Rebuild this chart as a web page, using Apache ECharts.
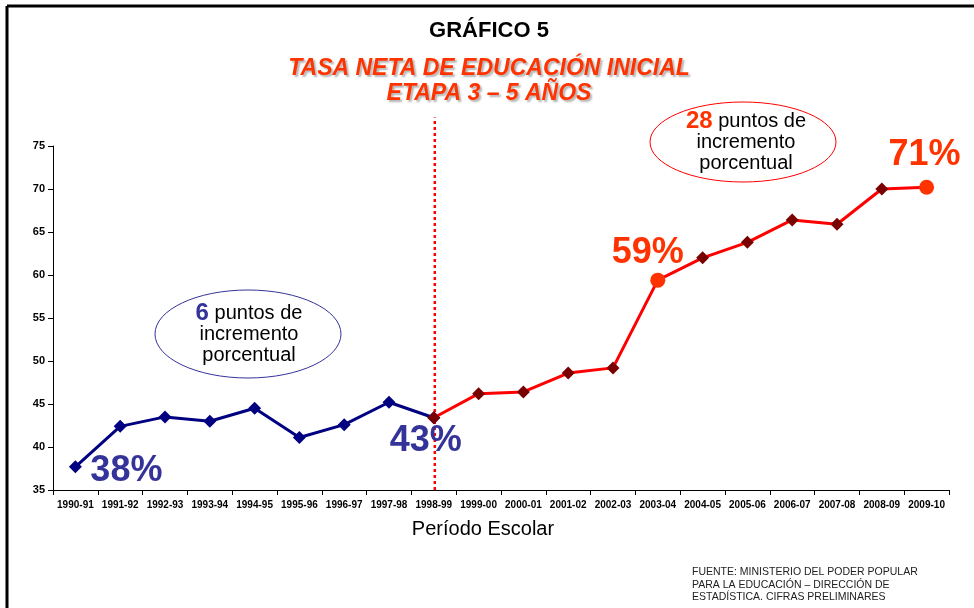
<!DOCTYPE html>
<html>
<head>
<meta charset="utf-8">
<script src="https://cdn.jsdelivr.net/npm/echarts@6/dist/echarts.min.js"></script>
<style>
    html, body { margin: 0; padding: 0; background: #fff; }
    #chart { width: 974px; height: 608px; }
</style>
</head>
<body>
<div id="chart"></div>
<script>
// periodos escolares
const periodos = ['1990-91', '1991-92', '1992-93', '1993-94', '1994-95', '1995-96', '1996-97',
    '1997-98', '1998-99', '1999-00', '2000-01', '2001-02', '2002-03', '2003-04', '2004-05',
    '2005-06', '2006-07', '2007-08', '2008-09', '2009-10'];

// tasa neta, primer tramo (1990-91 .. 1998-99)
const tramo1 = [37.7, 42.4, 43.5, 43.0, 44.5, 41.1, 42.6, 45.2, 43.4,
    null, null, null, null, null, null, null, null, null, null, null];

// tasa neta, segundo tramo (1998-99 .. 2009-10)
const tramo2 = [null, null, null, null, null, null, null, null, 43.4,
    46.2, 46.4, 48.6, 49.2, 59.4, 62.0, 63.8, 66.4, 65.9, 70.0, 70.2];

// rotulos destacados (indice -> texto)
const rotulos = { 0: '38%', 8: '43%', 13: '59%', 19: '71%' };

const yTicks = [35, 40, 45, 50, 55, 60, 65, 70, 75];

const fuente = ['FUENTE: MINISTERIO DEL PODER POPULAR',
    'PARA LA EDUCACIÓN – DIRECCIÓN DE',
    'ESTADÍSTICA. CIFRAS PRELIMINARES'];

const azul = '#000080';
const azulTxt = '#333399';
const rojo = '#ff0000';
const naranja = '#ff3300';
const granate = '#7a0000';

function pctLabel(txt, color, offset) {
    return {
        show: true,
        position: 'inside',
        offset: offset,
        formatter: txt,
        color: color,
        fontSize: 36,
        fontWeight: 'bold',
        fontFamily: 'Liberation Sans'
    };
}

const serie1 = tramo1.map((v, i) => {
    if (i === 0) return { value: v, label: pctLabel(rotulos[0], azulTxt, [51, 4]) };
    return v;
});

const serie2 = tramo2.map((v, i) => {
    if (i === 8) return { value: v, label: pctLabel(rotulos[8], azulTxt, [-8, 23]) };
    if (i === 13) return {
        value: v, symbol: 'circle', symbolSize: 15,
        itemStyle: { color: naranja }, label: pctLabel(rotulos[13], naranja, [-10, -27])
    };
    if (i === 19) return {
        value: v, symbol: 'circle', symbolSize: 15,
        itemStyle: { color: naranja }, label: pctLabel(rotulos[19], naranja, [-2, -32])
    };
    return v;
});

const chart = echarts.init(document.getElementById('chart'), null, { renderer: 'canvas' });

const option = {
    animation: false,
    backgroundColor: '#fff',
    textStyle: { fontFamily: 'Liberation Sans' },
    grid: { left: 53, right: 25, top: 146, bottom: 118 },
    xAxis: {
        type: 'category',
        data: periodos,
        boundaryGap: true,
        name: 'Período Escolar',
        nameLocation: 'middle',
        nameGap: 29,
        nameTextStyle: { fontSize: 20, color: '#000', fontFamily: 'Liberation Sans', padding: [0, 36, 0, 0] },
        axisLine: { lineStyle: { color: '#000', width: 1 } },
        axisTick: { show: true, length: 5, lineStyle: { color: '#000' } },
        axisLabel: {
            color: '#000', fontSize: 10, fontWeight: 'bold', margin: 10,
            interval: 0, fontFamily: 'Liberation Sans'
        },
        splitLine: { show: false }
    },
    yAxis: {
        type: 'value',
        min: yTicks[0],
        max: yTicks[yTicks.length - 1],
        interval: 5,
        axisLine: { show: true, lineStyle: { color: '#000', width: 1 } },
        axisTick: { show: true, length: 5, inside: false, lineStyle: { color: '#000' } },
        axisLabel: { color: '#000', fontSize: 11, fontWeight: 'bold', margin: 8 },
        splitLine: { show: false }
    },
    series: [
        {
            name: 'tramo1',
            type: 'line',
            data: serie1,
            symbol: 'diamond',
            symbolSize: 13,
            lineStyle: { color: azul, width: 3 },
            itemStyle: { color: azul },
            z: 3
        },
        {
            name: 'tramo2',
            type: 'line',
            data: serie2,
            symbol: 'diamond',
            symbolSize: 13,
            lineStyle: { color: rojo, width: 3 },
            itemStyle: { color: granate },
            z: 4
        }
    ],
    graphic: [
        // marco
        { type: 'line', shape: { x1: 7, y1: 6, x2: 974, y2: 6 }, style: { stroke: '#000', lineWidth: 3 } },
        { type: 'line', shape: { x1: 7, y1: 6, x2: 7, y2: 608 }, style: { stroke: '#000', lineWidth: 3 } },
        // titulos
        {
            type: 'text', x: 489, y: 31, z: 11,
            style: {
                text: 'GRÁFICO 5', align: 'center', verticalAlign: 'middle',
                fontSize: 22, fontWeight: 'bold', fill: '#000', fontFamily: 'Liberation Sans'
            }
        },
        {
            type: 'text', x: 489, y: 81, z: 11,
            style: {
                text: 'TASA NETA DE EDUCACIÓN INICIAL\nETAPA 3 – 5 AÑOS',
                align: 'center', verticalAlign: 'middle',
                fontSize: 23, lineHeight: 25, fontWeight: 'bold', fontStyle: 'italic',
                fill: naranja, fontFamily: 'Liberation Sans',
                textShadowColor: 'rgba(0,0,0,0.3)', textShadowBlur: 2,
                textShadowOffsetX: 2, textShadowOffsetY: 2
            }
        },
        // elipse azul
        {
            type: 'ellipse', shape: { cx: 248, cy: 334, rx: 93, ry: 44 },
            style: { fill: '#fff', stroke: azulTxt, lineWidth: 1 }, z: 10
        },
        {
            type: 'text', x: 249, y: 334, z: 11,
            style: {
                text: '{b|6} puntos de\nincremento\nporcentual',
                align: 'center', verticalAlign: 'middle',
                fontSize: 20, lineHeight: 21, fill: '#000', fontFamily: 'Liberation Sans',
                rich: { b: { fontSize: 24, fontWeight: 'bold', fill: azulTxt, fontFamily: 'Liberation Sans' } }
            }
        },
        // elipse roja
        {
            type: 'ellipse', shape: { cx: 743, cy: 142, rx: 93, ry: 40 },
            style: { fill: '#fff', stroke: rojo, lineWidth: 1 }, z: 10
        },
        {
            type: 'text', x: 746, y: 142, z: 11,
            style: {
                text: '{b|28} puntos de\nincremento\nporcentual',
                align: 'center', verticalAlign: 'middle',
                fontSize: 20, lineHeight: 21, fill: '#000', fontFamily: 'Liberation Sans',
                rich: { b: { fontSize: 24, fontWeight: 'bold', fill: naranja, fontFamily: 'Liberation Sans' } }
            }
        },
        // fuente
        {
            type: 'text', x: 692, y: 566, z: 11,
            style: {
                text: fuente.join('\n'),
                fontSize: 10.5, lineHeight: 12.5, fill: '#222', fontFamily: 'Liberation Sans'
            }
        }
    ]
};

chart.setOption(option);

// linea divisoria punteada en 1998-99, prolongada sobre el area del grafico
const pBase = chart.convertToPixel({ gridIndex: 0 }, [periodos[8], yTicks[0]]);
const pTope = chart.convertToPixel({ gridIndex: 0 }, [periodos[8], 78.3]);
chart.setOption({
    graphic: option.graphic.concat([{
        type: 'line', z: 2,
        shape: { x1: pBase[0] + 1, y1: pBase[1], x2: pTope[0] + 1, y2: pTope[1] },
        style: { stroke: rojo, lineWidth: 2.5, lineDash: [3, 3] }
    }])
});
</script>
</body>
</html>
